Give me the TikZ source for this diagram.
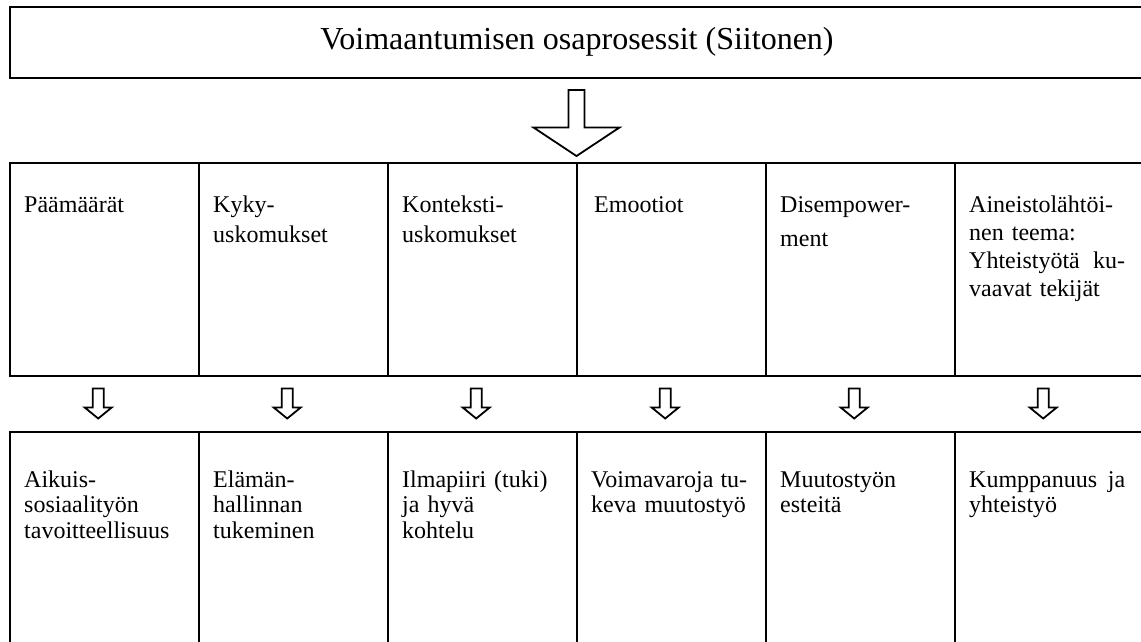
\documentclass[tikz,border=0pt]{standalone}
\usepackage{fontspec}
\setmainfont{Liberation Serif}
\begin{document}
\begin{tikzpicture}[x=1pt,y=-1pt,
  frame/.style={draw=black,line width=2pt},
  cell/.style={frame,minimum width=189pt,inner sep=0pt,outer sep=0pt},
  celltext/.style={anchor=north west,inner sep=0pt,text width=156pt,align=left,
    font=\fontsize{24}{27.6}\selectfont},
  lowtext/.style={celltext,font=\fontsize{24}{25.5}\selectfont},
  blockarrow/.style={draw=black,line width=1.8pt,line join=miter,fill=white}]
\useasboundingbox (0,0) rectangle (1141,641);
\clip (0,0) rectangle (1141,641);

% title box
\node[frame,minimum width=1134pt,minimum height=71pt,inner sep=0pt,
  font=\fontsize{32}{36}\selectfont] (title) at (577,42.2)
  {Voimaantumisen osaprosessit (Siitonen)};

% row 1 cells
\foreach \i/\n in {0/a1,1/a2,2/a3,3/a4,4/a5,5/a6}
  \node[cell,minimum height=212.4pt] (\n) at ({10+189*(\i+0.5)},269.5) {};
% row 2 cells
\foreach \i/\n in {0/b1,1/b2,2/b3,3/b4,4/b5,5/b6}
  \node[cell,minimum height=213.3pt] (\n) at ({10+189*(\i+0.5)},538.35) {};

% big arrow
\coordinate (bigtip) at (576.5,156);
\draw[blockarrow] ([shift={(-8,-66)}]bigtip) -- ([shift={(8,-66)}]bigtip)
  -- ([shift={(8,-28.5)}]bigtip) -- ([shift={(43,-28.5)}]bigtip) -- (bigtip)
  -- ([shift={(-43,-28.5)}]bigtip) -- ([shift={(-8,-28.5)}]bigtip) -- cycle;

% small arrows
\foreach \i in {0,...,5}{
  \coordinate (tip\i) at ({98.2+189*\i},418.5);
  \draw[blockarrow] ([shift={(-5.5,-30)}]tip\i) -- ([shift={(5.5,-30)}]tip\i)
    -- ([shift={(5.5,-11)}]tip\i) -- ([shift={(13.5,-11)}]tip\i) -- (tip\i)
    -- ([shift={(-13.5,-11)}]tip\i) -- ([shift={(-5.5,-11)}]tip\i) -- cycle;
}

% row 1 texts (first baseline 212.7)
\node[celltext] (ta1) at (24,192.7) {\rule{0pt}{20pt}Päämäärät};
\node[celltext,font=\fontsize{24}{30}\selectfont] (ta2) at (213,192.7) {\rule{0pt}{20pt}Kyky-\\uskomukset};
\node[celltext,font=\fontsize{24}{30}\selectfont] (ta3) at (402,192.7) {\rule{0pt}{20pt}Konteksti-\\uskomukset};
\node[celltext] (ta4) at (594,192.7) {\rule{0pt}{20pt}Emootiot};
\node[celltext,font=\fontsize{24}{34}\selectfont] (ta5) at (780,192.7) {\rule{0pt}{20pt}Disempower-\\ment};
\node[celltext,font=\fontsize{24}{28}\selectfont] (ta6) at (969,192.7)
  {\rule{0pt}{20pt}Aineistolähtöi-\\nen teema:\\Yhteistyötä\hfill ku-\\vaavat tekijät};

% row 2 texts (first baseline 487)
\node[lowtext] (tb1) at (24,467) {\rule{0pt}{20pt}Aikuis-\\sosiaalityön\\tavoitteellisuus};
\node[lowtext] (tb2) at (213,467) {\rule{0pt}{20pt}Elämän-\\hallinnan\\tukeminen};
\node[lowtext] (tb3) at (402,467) {\rule{0pt}{20pt}Ilmapiiri (tuki)\\ja hyvä\\kohtelu};
\node[lowtext] (tb4) at (591,467) {\rule{0pt}{20pt}Voimavaroja\hfill tu-\\keva muutostyö};
\node[lowtext] (tb5) at (780,467) {\rule{0pt}{20pt}Muutostyön\\esteitä};
\node[lowtext] (tb6) at (969,467) {\rule{0pt}{20pt}Kumppanuus\hfill ja\\yhteistyö};
\end{tikzpicture}
\end{document}
